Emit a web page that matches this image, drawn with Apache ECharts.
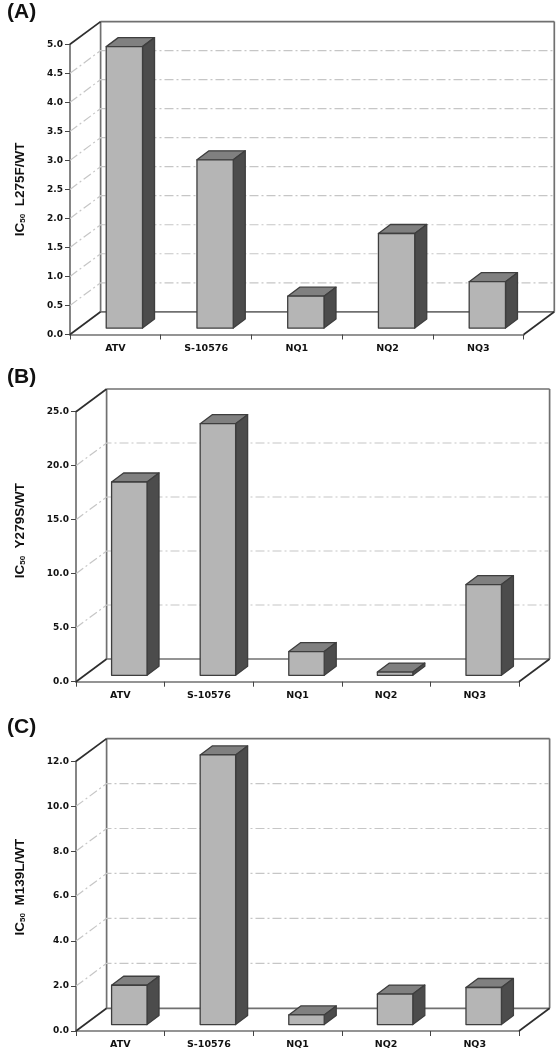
<!DOCTYPE html>
<html>
<head>
<meta charset="utf-8">
<style>html,body{margin:0;padding:0;background:#fff}#c{width:558px;height:1050px;filter:blur(0.35px)}</style>
<script src="https://cdn.jsdelivr.net/npm/echarts@6/dist/echarts.min.js"></script>
</head>
<body>
<div id="c"></div>
<script>
const categories = ['ATV', 'S-10576', 'NQ1', 'NQ2', 'NQ3'];
const valuesA = [4.85, 2.9, 0.55, 1.63, 0.8];
const valuesB = [17.9, 23.3, 2.2, 0.3, 8.4];
const valuesC = [1.75, 12.0, 0.43, 1.36, 1.65];
const gridTicksA = [0.5, 1.0, 1.5, 2.0, 2.5, 3.0, 3.5, 4.0, 4.5];
const gridTicksB = [5, 10, 15, 20];
const gridTicksC = [2, 4, 6, 8, 10];
const namesY = ['L275F/WT', 'Y279S/WT', 'M139L/WT'];
const panelLabels = ['(A)', '(B)', '(C)'];

const WALL = '#707070', DARK = '#2e2e2e', GRID = '#c6c6c6', INK = '#111';
const wallDx = 30.6, wallDy = 22.7;   // projection of the floor depth
const barDx = 12, barDy = 9, barShiftX = 9, barShiftY = 6.4;

function wallItem(params) {
  const c = params.coordSys, x0 = c.x, x1 = c.x + c.width, y0 = c.y, y1 = c.y + c.height;
  const bx0 = x0 + wallDx, bx1 = x1 + wallDx, by0 = y0 - wallDy, by1 = y1 - wallDy;
  const line = (a, b, col) => ({ type: 'line', shape: { x1: a[0], y1: a[1], x2: b[0], y2: b[1] },
    style: { stroke: col || WALL, lineWidth: 1.7 } });
  return { type: 'group', children: [
    line([bx0, by0], [bx1, by0]),
    line([bx0, by0], [bx0, by1]),
    line([bx1, by0], [bx1, by1]),
    line([bx0, by1], [bx1, by1]),
    line([x0, y0], [bx0, by0], DARK),
    line([x0, y1], [bx0, by1], DARK),
    line([x1, y1], [bx1, by1], DARK)
  ] };
}
function gridItem(params, api) {
  const c = params.coordSys, x0 = c.x, x1 = c.x + c.width;
  const y = api.coord([0, api.value(0)])[1];
  return { type: 'polyline',
    shape: { points: [[x0, y], [x0 + wallDx, y - wallDy], [x1 + wallDx - 1, y - wallDy]] },
    style: { fill: 'none', stroke: GRID, lineWidth: 1.2, lineDash: [9, 3, 2, 3] } };
}
function barItem(params, api) {
  const i = api.value(0), top = api.coord([i, api.value(1)]), base = api.coord([i, 0]);
  const w = api.size([1, 0])[0] * 0.4;
  const l = top[0] - w / 2 + barShiftX, r = l + w;
  const t = top[1] - barShiftY, b = base[1] - barShiftY;
  const edge = { stroke: '#3e3e3e', lineWidth: 1.3, lineJoin: 'round' };
  return { type: 'group', children: [
    { type: 'polygon', shape: { points: [[l, t], [r, t], [r + barDx, t - barDy], [l + barDx, t - barDy]] },
      style: Object.assign({ fill: '#808080' }, edge) },
    { type: 'polygon', shape: { points: [[r, t], [r + barDx, t - barDy], [r + barDx, b - barDy], [r, b]] },
      style: Object.assign({ fill: '#4c4c4c' }, edge) },
    { type: 'rect', shape: { x: l, y: t, width: w, height: b - t },
      style: Object.assign({ fill: '#b5b5b5' }, edge) }
  ] };
}

const layout = [
  { left: 70, right: 34.3, top: 44.3, height: 290.2, max: 5, interval: 0.5, values: valuesA, ticks: gridTicksA, shift: 0, labelTop: -3 },
  { left: 76, right: 39, top: 411.7, height: 270, max: 25, interval: 5, values: valuesB, ticks: gridTicksB, shift: 16, labelTop: 361.5 },
  { left: 76, right: 39, top: 761.3, height: 270.4, max: 12, interval: 2, values: valuesC, ticks: gridTicksC, shift: 9, labelTop: 711.5 }
];
const opt = { animation: false, backgroundColor: '#fff', title: [], grid: [], xAxis: [], yAxis: [], series: [] };
layout.forEach((p, k) => {
  opt.title.push({ text: panelLabels[k], left: 2, top: p.labelTop,
    textStyle: { fontFamily: 'Liberation Sans', fontWeight: 'bold', fontSize: 21, color: INK } });
  opt.grid.push({ left: p.left, right: p.right, top: p.top, height: p.height, containLabel: false });
  opt.xAxis.push({ type: 'category', gridIndex: k, data: categories,
    axisTick: { show: true, alignWithLabel: false, length: 5, lineStyle: { color: '#444', width: 1 } },
    axisLine: { lineStyle: { color: WALL, width: 1.7 } },
    axisLabel: { margin: 9, interval: 0, fontFamily: 'DejaVu Sans', fontWeight: 'bold', fontSize: 9.5, color: INK },
    splitLine: { show: false } });
  opt.yAxis.push({ type: 'value', gridIndex: k, min: 0, max: p.max, interval: p.interval,
    name: '{a|IC}{s|50}{a|  ' + namesY[k] + '}', nameLocation: 'middle', nameRotate: 90, nameGap: p.left - 27,
    nameTextStyle: { padding: [0, 0, 0, p.shift * 2], rich: {
      a: { fontFamily: 'Liberation Sans', fontWeight: 'bold', fontSize: 13.5, color: INK, verticalAlign: 'bottom', lineHeight: 16 },
      s: { fontFamily: 'Liberation Sans', fontWeight: 'bold', fontSize: 8, color: INK, verticalAlign: 'bottom', lineHeight: 12 } } },
    axisLine: { show: true, lineStyle: { color: WALL, width: 1.7 } },
    axisTick: { show: true, length: 5, lineStyle: { color: '#444', width: 1 } },
    axisLabel: { margin: 7, formatter: v => v.toFixed(1), fontFamily: 'DejaVu Sans', fontWeight: 'bold', fontSize: 9, color: INK },
    splitLine: { show: false } });
  opt.series.push({ type: 'custom', xAxisIndex: k, yAxisIndex: k, z: 1, silent: true, clip: false,
    renderItem: wallItem, data: [[0]] });
  opt.series.push({ type: 'custom', xAxisIndex: k, yAxisIndex: k, z: 2, silent: true, clip: false,
    renderItem: gridItem, encode: { y: 0 }, data: p.ticks.map(v => [v]) });
  opt.series.push({ type: 'custom', xAxisIndex: k, yAxisIndex: k, z: 5, silent: true, clip: false,
    renderItem: barItem, encode: { x: 0, y: 1 }, data: p.values.map((v, i) => [i, v]) });
});
const chart = echarts.init(document.getElementById('c'), null, { renderer: 'canvas' });
chart.setOption(opt);
</script>
</body>
</html>
